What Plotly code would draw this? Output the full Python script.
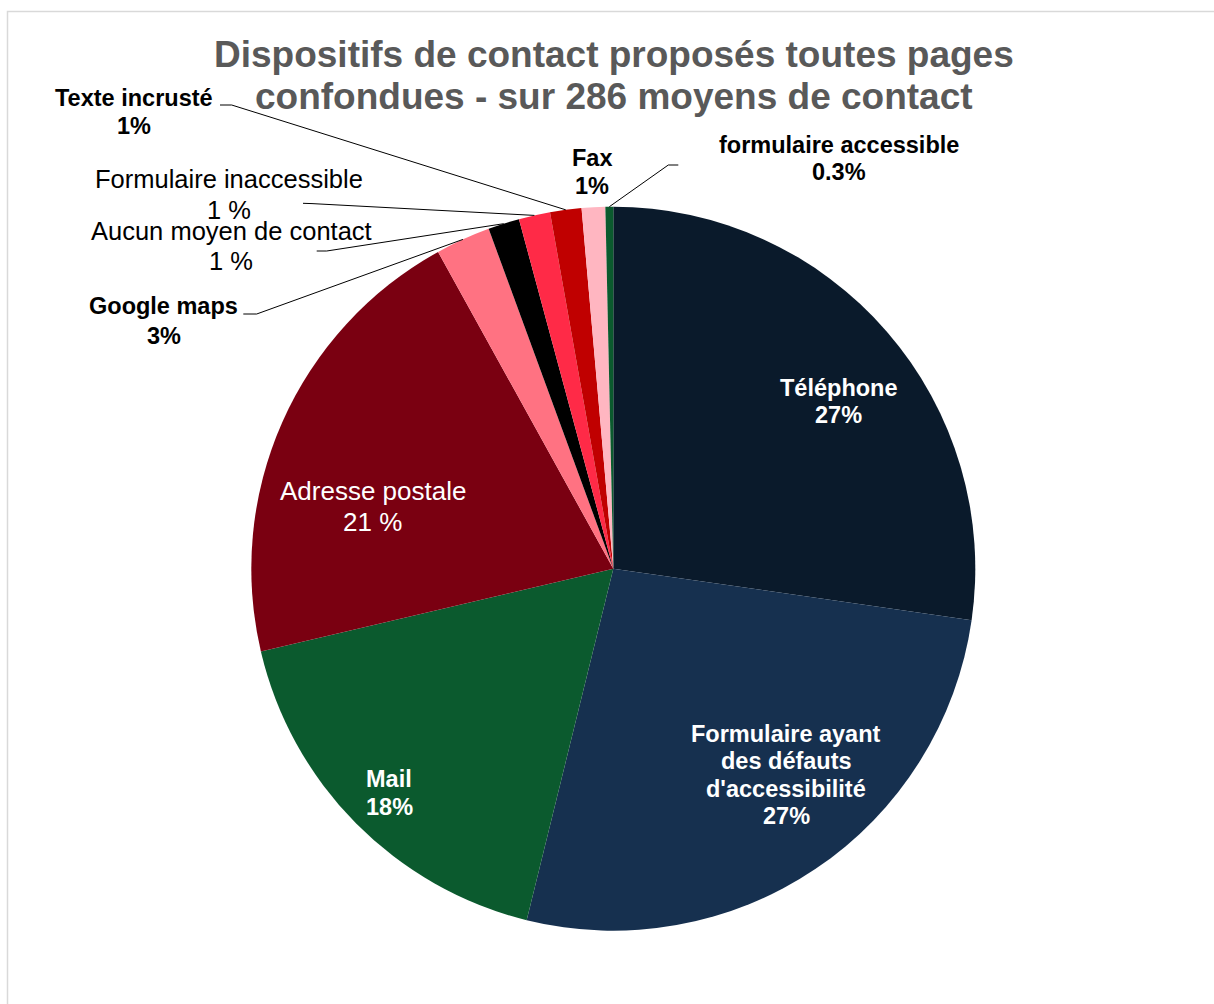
import math
import plotly.graph_objects as go

# ---------------- data ----------------
categories = [
    "Téléphone",
    "Formulaire ayant des défauts d'accessibilité",
    "Mail",
    "Adresse postale",
    "Google maps",
    "Aucun moyen de contact",
    "Formulaire inaccessible",
    "Texte incrusté",
    "Fax",
    "formulaire accessible",
]
counts = [78, 76, 50, 59, 7, 4, 4, 4, 3, 1]
pct_labels = ["27%", "27%", "18%", "21 %", "3%", "1 %", "1 %", "1%", "1%", "0.3%"]
title_lines = ["Dispositifs de contact proposés toutes pages",
               "confondues - sur 286 moyens de contact"]

# ---------------- style ----------------
W, H = 1214, 1004
colors = ["#0a1a2b", "#16304f", "#0b5a2e", "#7a0011", "#ff7282",
          "#000000", "#ff2a47", "#c00000", "#ffb6c1", "#0b5a2e"]
FONT = "Liberation Sans, Arial, sans-serif"

# pie placement (pixels)
PCX, PCY, PR = 613.3, 568.7, 362.0
dom_x = [(PCX - PR) / W, (PCX + PR) / W]
dom_y = [1 - (PCY + PR) / H, 1 - (PCY - PR) / H]

def px(x):
    return x / W

def py(y):
    return 1 - y / H

# label layout: index -> (cx, first-line cy, spacing, size, bold, color)
wrapped = {1: ["Formulaire ayant", "des défauts", "d'accessibilité"]}
label_style = {
    0: (839, 388, 27.5, 23.5, True, "white"),
    1: (786, 734, 27.4, 23.5, True, "white"),
    2: (389, 779, 28, 23.5, True, "white"),
    3: (372.5, 490.5, 31, 26, False, "white"),
    4: (163.5, 306, 29.5, 23.5, True, "black"),
    5: (231, 230.5, 30, 25.5, False, "black"),
    6: (229, 179, 30.5, 25.5, False, "black"),
    7: (133.5, 97.5, 28, 23.5, True, "black"),
    8: (592, 158.5, 27.5, 23.5, True, "black"),
    9: (839, 145.5, 27, 23.5, True, "black"),
}
# leader lines: index -> pixel points near the label, ending at slice edge
leader_start = {
    7: [(220, 105), (231.7, 105)],
    6: [(303, 203.3), (312, 203.6)],
    5: [(316.7, 251), (326.7, 251)],
    4: [(243.3, 314), (256.7, 314)],
    9: [(678.3, 165), (668.3, 165)],
}

fig = go.Figure()
fig.add_trace(go.Pie(
    labels=categories,
    values=counts,
    sort=False,
    direction="clockwise",
    rotation=0,
    marker=dict(colors=colors, line=dict(width=0)),
    textinfo="none",
    showlegend=False,
    domain=dict(x=dom_x, y=dom_y),
))

annotations = []
# title
for i, t in enumerate(title_lines):
    annotations.append(dict(
        text="<b>%s</b>" % t, x=px(614), y=py(54.5 + i * 41.5),
        xref="paper", yref="paper", xanchor="center", yanchor="middle",
        showarrow=False, font=dict(family=FONT, size=37, color="#595959")))

# slice labels
for i, name in enumerate(categories):
    cx, cy, sp, size, bold, col = label_style[i]
    lines = wrapped.get(i, [name]) + [pct_labels[i]]
    for k, ln in enumerate(lines):
        txt = "<b>%s</b>" % ln if bold else ln
        annotations.append(dict(
            text=txt, x=px(cx), y=py(cy + k * sp),
            xref="paper", yref="paper", xanchor="center", yanchor="middle",
            showarrow=False, font=dict(family=FONT, size=size, color=col)))

# leader lines computed to slice mid-angle on the pie edge
total = float(sum(counts))
cum = 0.0
mid_angle = []
for v in counts:
    mid_angle.append((cum + v / 2.0) / total * 2 * math.pi)
    cum += v

shapes = []
for i, pts in leader_start.items():
    a = mid_angle[i]
    ex = PCX + PR * math.sin(a)
    ey = PCY - PR * math.cos(a)
    path_pts = pts + [(ex, ey)]
    for (x0, y0), (x1, y1) in zip(path_pts[:-1], path_pts[1:]):
        shapes.append(dict(type="line", xref="paper", yref="paper",
                           x0=px(x0), y0=py(y0), x1=px(x1), y1=py(y1),
                           line=dict(color="black", width=1)))

# chart-area border
shapes.append(dict(type="rect", xref="paper", yref="paper",
                   x0=px(7.5), y0=py(1100), x1=px(1300), y1=py(11.5),
                   line=dict(color="#d9d9d9", width=1.5), layer="below"))

fig.update_layout(
    width=W, height=H,
    margin=dict(l=0, r=0, t=0, b=0),
    paper_bgcolor="white", plot_bgcolor="white",
    annotations=annotations, shapes=shapes,
)

fig.write_html(
    "out.html",
    config={"displayModeBar": False},
    post_script="document.body.style.margin='0';document.body.style.overflow='hidden';",
)
